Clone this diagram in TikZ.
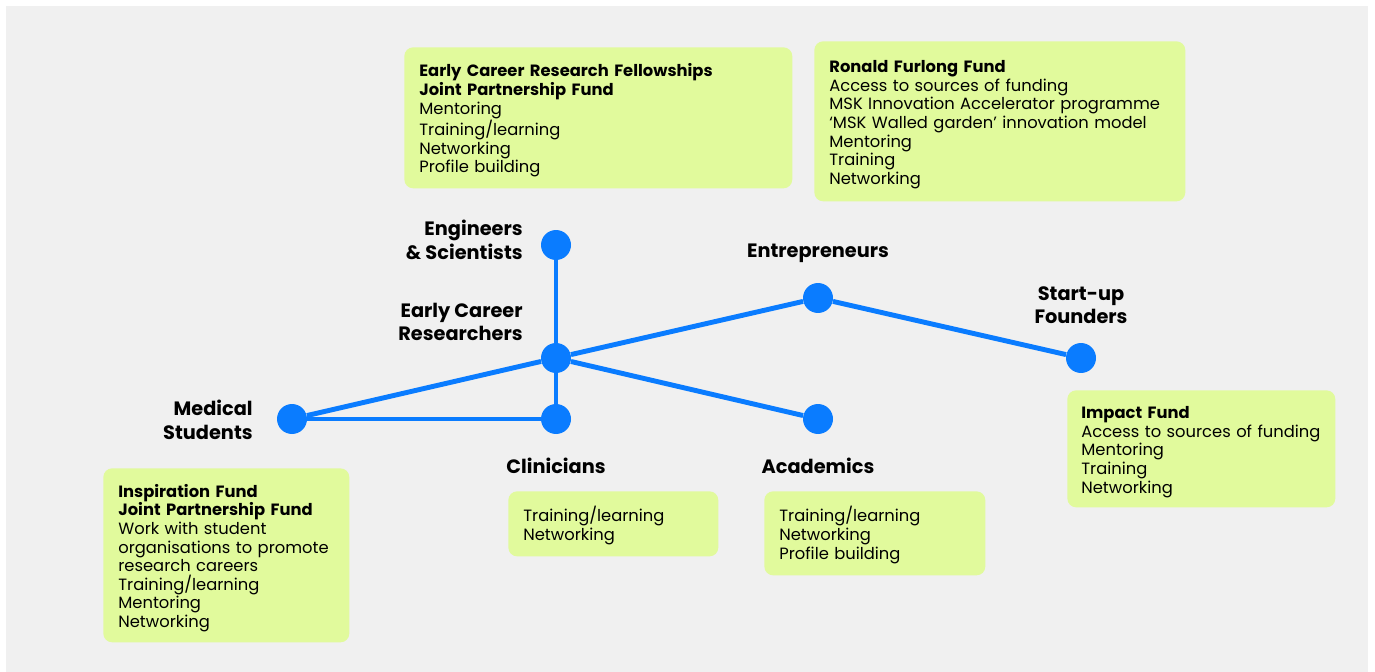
\documentclass[tikz,border=0pt]{standalone}
\usepackage{fontspec}
\setmainfont{Poppins}
\usepackage{tikz}
\usetikzlibrary{positioning}
\usepackage{xcolor}

\definecolor{panelgrey}{HTML}{F0F0F0}
\definecolor{linkblue}{HTML}{0A7CFF}
\definecolor{fundgreen}{HTML}{E1FA9C}

\tikzset{
	dot/.style={circle,fill=linkblue,inner sep=0pt,minimum size=0.6cm},
	link/.style={draw=linkblue,line width=2.8pt},
	group/.style={font=\fontsize{11}{13.3}\selectfont\bfseries,inner sep=0pt},
	fundbox/.style={fill=fundgreen,rounded corners=5pt,anchor=north west,align=left,
		inner xsep=0.3cm,inner ysep=0pt,font=\fontsize{9.3}{10.6}\selectfont,
		execute at begin node={\hyphenpenalty=10000\rule{0pt}{0.37cm}}}
}

\begin{document}
\begin{tikzpicture}[x=0.02cm,y=-0.02cm]
	\useasboundingbox (0,0) rectangle (1375,672);
	\fill[panelgrey] (6,6) rectangle (1368,672);

	% funds
	\node[fundbox,text width=7.16cm,minimum height=2.82cm] (fellow) at (404,47)
		{\textbf{Early Career Research Fellowships}\\\textbf{Joint Partnership Fund}\\Mentoring\\Training/learning\\Networking\\Profile building};
	\node[fundbox,text width=6.82cm,minimum height=3.2cm] (furlong) at (814,41)
		{\textbf{Ronald Furlong Fund}\\Access to sources of funding\\MSK Innovation Accelerator programme\\‘MSK Walled garden’ innovation model\\Mentoring\\Training\\Networking};
	\node[fundbox,text width=4.8cm,inner xsep=0.28cm,minimum height=2.34cm] (impact) at (1067,390)
		{\textbf{Impact Fund}\\Access to sources of funding\\Mentoring\\Training\\Networking};
	\node[fundbox,text width=3.6cm,minimum height=1.3cm] (clinfund) at (508,491)
		{Training/learning\\Networking};
	\node[fundbox,text width=3.82cm,minimum height=1.68cm] (acadfund) at (764,491)
		{Training/learning\\Networking\\Profile building};
	\node[fundbox,text width=4.32cm,minimum height=3.48cm] (inspire) at (103,468)
		{\textbf{Inspiration Fund}\\\textbf{Joint Partnership Fund}\\Work with student\\organisations to promote\\research careers\\Training/learning\\Mentoring\\Networking};

	% career stages
	\node[dot] (eng) at (556,245) {};
	\node[dot] (ecr) at (556,358) {};
	\node[dot] (clin) at (556,419) {};
	\node[dot] (med) at (292,419) {};
	\node[dot] (ent) at (818,298) {};
	\node[dot] (start) at (1081,358) {};
	\node[dot] (acad) at (818,419) {};

	\draw[link] (eng) -- (ecr);
	\draw[link] (ecr) -- (clin);
	\draw[link] (med) -- (clin);
	\draw[link] (med) -- (ecr);
	\draw[link] (ecr) -- (ent);
	\draw[link] (ent) -- (start);
	\draw[link] (ecr) -- (acad);

	\node[group,align=right,anchor=east] (englbl) at (523,240) {Engineers\\\& Scientists};
	\node[group,align=right,anchor=east] (ecrlbl) at (523,322) {Early Career\\Researchers};
	\node[group,align=right,anchor=east] (medlbl) at (253,420) {Medical\\Students};
	\node[group,align=center] (entlbl) at (818,253) {Entrepreneurs};
	\node[group,align=center] (startlbl) at (1081,305) {Start-up\\Founders};
	\node[group,align=center] (clinlbl) at (556,466) {Clinicians};
	\node[group,align=center] (acadlbl) at (818,466) {Academics};
\end{tikzpicture}
\end{document}
